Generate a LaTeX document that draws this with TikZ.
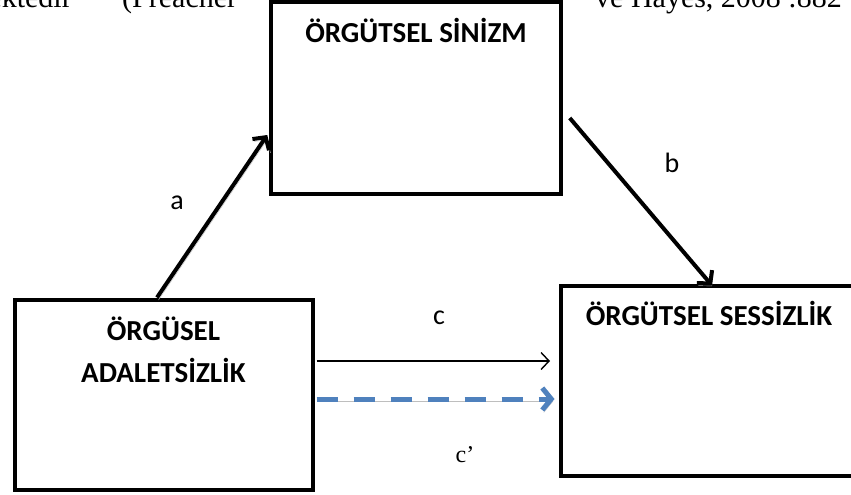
\documentclass[tikz,border=0pt]{standalone}
\usepackage{fontspec}
\setmainfont{Liberation Serif}
\newfontfamily\calibri{Carlito}
\usetikzlibrary{arrows.meta, positioning}
\definecolor{dashblue}{RGB}{79, 129, 189}
\definecolor{shadowgray}{RGB}{190, 190, 190}

\begin{document}
\begin{tikzpicture}[x=1pt, y=-1pt,
    varbox/.style={draw, line width=4pt, fill=white, inner sep=0pt},
    boxtitle/.style={font=\calibri\bfseries\fontsize{29}{42}\selectfont, align=center, inner sep=0pt, anchor=base},
    pathlabel/.style={font=\calibri\fontsize{28}{30}\selectfont, inner sep=0pt},
    bodytext/.style={font=\fontsize{30}{36}\selectfont, inner sep=0pt},
    shadowed/.style={preaction={draw=shadowgray, transform canvas={shift={(1.5pt,-2.5pt)}}}},
    patharrow/.style={line width=4pt, -{Straight Barb[length=9pt, width=20pt]}, shadowed},
    directarrow/.style={line width=1.4pt, -{Straight Barb[length=8pt, width=17pt]}},
    indirectarrow/.style={line width=5pt, draw=dashblue, dash pattern=on 21pt off 16pt, -{Straight Barb[length=9pt, width=22pt]}, shadowed}
]
\clip (0,0) rectangle (851,495);

% Running text behind the diagram
\node[bodytext, anchor=base east] (textleft) at (72, 8) {ektedir};
\node[bodytext, anchor=base west] (textcite) at (122, 8) {(Preacher};
\node[bodytext, anchor=base west] (textright) at (595, 8) {ve Hayes, 2008 :882};

% Variables
\node[varbox, minimum width=289.5pt, minimum height=192pt] (sinizm) at (416, 98) {};
\node[varbox, minimum width=298pt, minimum height=190pt] (adalet) at (163.5, 394.5) {};
\node[varbox, minimum width=298pt, minimum height=190pt] (sessizlik) at (709.5, 380.5) {};

\node[boxtitle] (sinizmtitle) at (416, 43) {ÖRGÜTSEL SİNİZM};
\node[boxtitle] (adalettitle) at (163.5, 382) {ÖRGÜSEL\\ADALETSİZLİK};
\node[boxtitle] (sessizliktitle) at (709, 325) {ÖRGÜTSEL SESSİZLİK};

% Paths
\draw[patharrow] ([xshift=-6.5pt]adalet.north) -- ([xshift=-2pt, yshift=-37pt]sinizm.west);
\draw[patharrow] ([xshift=7pt, yshift=-20pt]sinizm.east) -- ([xshift=2.5pt, yshift=-2pt]sessizlik.north);
\draw[directarrow] ([xshift=2pt, yshift=33.5pt]adalet.east) -- ([xshift=-8.5pt, yshift=19.5pt]sessizlik.west);
\draw[indirectarrow] ([xshift=2pt, yshift=-4.5pt]adalet.east) -- ([xshift=-4pt, yshift=-18.5pt]sessizlik.west);

\node[pathlabel] (alabel) at (177, 203) {a};
\node[pathlabel] (blabel) at (672, 163) {b};
\node[pathlabel] (clabel) at (439, 318) {c};
\node[bodytext, font=\fontsize{24}{28}\selectfont] (cplabel) at (465, 455) {c’};

\end{tikzpicture}
\end{document}
